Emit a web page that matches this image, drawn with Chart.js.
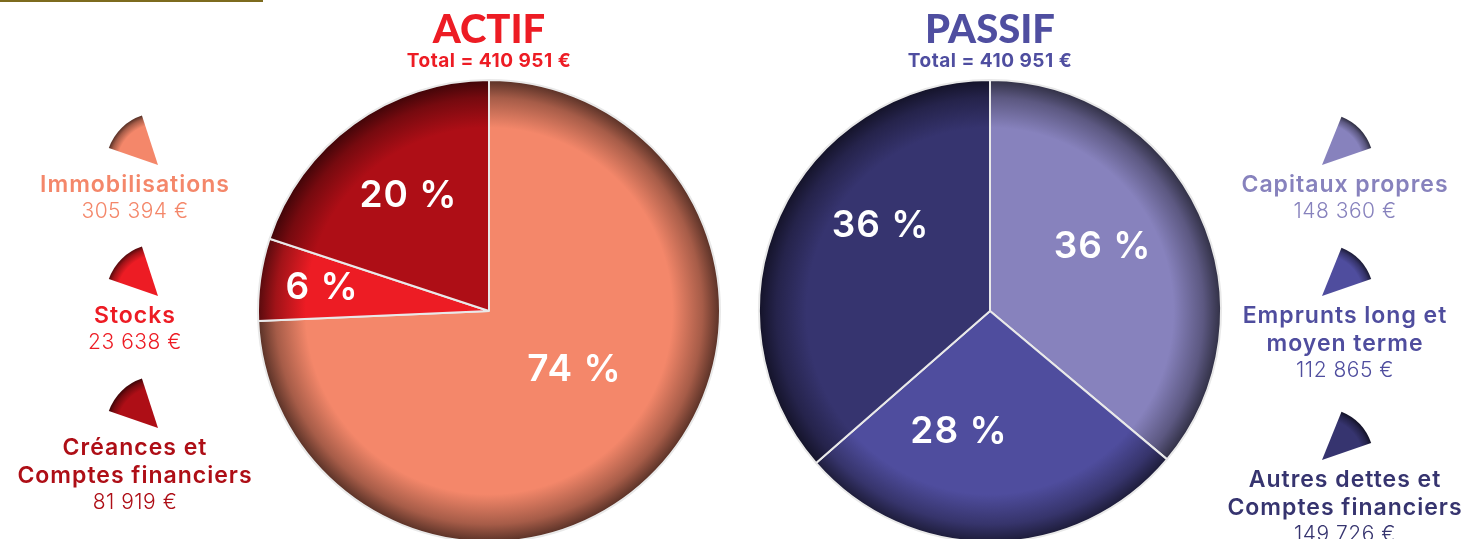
<!DOCTYPE html>
<html>
<head>
<meta charset="utf-8">
<script src="https://cdn.jsdelivr.net/npm/chart.js@4.4.1/dist/chart.umd.min.js"></script>
<style>
  html, body { margin: 0; padding: 0; background: #fff; overflow: hidden; }
  body { width: 1471px; height: 539px; position: relative; }
  .deco { position: absolute; left: 0; top: 0; width: 263px; height: 2px; background: #7d6b1e; }
  .box { position: absolute; top: 0; height: 545px; }
  #boxActif { left: 0; width: 735px; }
  #boxPassif { left: 735px; width: 736px; }
</style>
</head>
<body>
<div class="deco"></div>
<div class="box" id="boxActif"><canvas id="actif"></canvas></div>
<div class="box" id="boxPassif"><canvas id="passif"></canvas></div>
<script>
// data
const actifLabels = [["Immobilisations"], ["Stocks"], ["Créances et", "Comptes financiers"]];
const actifValues = [305394, 23638, 81919];
const actifPct = ["74 %", "6 %", "20 %"];
const actifColors = ["#f4876a", "#ed1c24", "#ae0e16"];

const passifLabels = [["Capitaux propres"], ["Emprunts long et", "moyen terme"], ["Autres dettes et", "Comptes financiers"]];
const passifValues = [148360, 112865, 149726];
const passifPct = ["36 %", "28 %", "36 %"];
const passifColors = ["#8782bd", "#4f4d9e", "#36346f"];

const FONT = "Inter, Lato, sans-serif";

function fmt(n) {
  return String(n).replace(/\B(?=(\d{3})+(?!\d))/g, " ") + " €";
}

function darken(hex, f) {
  const n = parseInt(hex.slice(1), 16);
  const r = Math.round(((n >> 16) & 255) * f);
  const g = Math.round(((n >> 8) & 255) * f);
  const b = Math.round((n & 255) * f);
  return "rgb(" + r + "," + g + "," + b + ")";
}

function shaded(ctx, cx, cy, r, color) {
  const g = ctx.createRadialGradient(cx, cy, 0, cx, cy, r);
  g.addColorStop(0, color);
  g.addColorStop(0.79, color);
  g.addColorStop(0.92, darken(color, 0.68));
  g.addColorStop(1, darken(color, 0.35));
  return g;
}

function sliceColor(colors) {
  return (c) => {
    const area = c.chart.chartArea;
    const col = colors[c.dataIndex];
    if (!area) return col;
    const cx = (area.left + area.right) / 2;
    const cy = (area.top + area.bottom) / 2;
    const r = Math.min(area.right - area.left, area.bottom - area.top) / 2;
    return shaded(c.chart.ctx, cx, cy, r, col);
  };
}

// extra drawing: title, percentages, side legend
const decorPlugin = {
  id: "decor",
  afterDraw(chart, args, o) {
    const ctx = chart.ctx;
    const area = chart.chartArea;
    const cx = (area.left + area.right) / 2;
    const meta = chart.getDatasetMeta(0);
    ctx.save();
    ctx.textAlign = "center";
    ctx.textBaseline = "middle";

    // title
    ctx.fillStyle = o.titleColor;
    ctx.letterSpacing = "0px";
    ctx.font = "900 40px Lato, sans-serif";
    ctx.fillText(o.title, cx, 30);
    ctx.font = "700 19px " + FONT;
    ctx.letterSpacing = "0.5px";
    const total = chart.data.datasets[0].data.reduce((a, b) => a + b, 0);
    ctx.fillText("Total = " + fmt(total), cx, 61);

    // percent labels
    ctx.fillStyle = "#fff";
    ctx.font = "600 37px " + FONT;
    ctx.letterSpacing = "1px";
    meta.data.forEach((arc, i) => {
      const mid = (arc.startAngle + arc.endAngle) / 2 + o.labelShift[i] * Math.PI / 180;
      const rr = arc.outerRadius * o.labelRadius[i];
      ctx.fillText(o.pct[i], arc.x + Math.cos(mid) * rr, arc.y + Math.sin(mid) * rr);
    });

    // side legend
    o.legendY.forEach((ay, i) => {
      const col = o.colors[i];
      const ax = o.iconX;
      const rad = 52;
      ctx.beginPath();
      ctx.moveTo(ax, ay);
      ctx.arc(ax, ay, rad, o.iconA0 * Math.PI / 180, o.iconA1 * Math.PI / 180);
      ctx.closePath();
      ctx.fillStyle = shaded(ctx, ax, ay, rad, col);
      ctx.fill();

      ctx.fillStyle = col;
      let y = ay + 20;
      ctx.font = "600 23px " + FONT;
      ctx.letterSpacing = "1px";
      o.labels[i].forEach((line) => {
        ctx.fillText(line, o.textX, y);
        y += 28;
      });
      ctx.font = "300 21px " + FONT;
      ctx.letterSpacing = "0.5px";
      ctx.fillText(fmt(chart.data.datasets[0].data[i]), o.textX, y - 1);
    });
    ctx.restore();
  }
};

function makePie(id, values, colors, pad, decor) {
  return new Chart(document.getElementById(id), {
    type: "pie",
    data: {
      labels: decor.labels.map((l) => l.join(" ")),
      datasets: [{
        data: values,
        backgroundColor: sliceColor(colors),
        borderColor: "#e9e9e9",
        borderWidth: 2
      }]
    },
    options: {
      responsive: true,
      maintainAspectRatio: false,
      animation: false,
      layout: { padding: pad },
      plugins: {
        legend: { display: false },
        tooltip: { enabled: false },
        decor: decor
      }
    },
    plugins: [decorPlugin]
  });
}

makePie("actif", actifValues, actifColors, { left: 257, right: 14, top: 79, bottom: 2 }, {
  title: "ACTIF",
  titleColor: "#ed1c24",
  pct: actifPct,
  labelRadius: [0.45, 0.73, 0.61],
  labelShift: [-9, 0, 1],
  labels: actifLabels,
  colors: actifColors,
  legendY: [165, 296, 428],
  iconX: 158,
  iconA0: 199,
  iconA1: 252,
  textX: 135
});

makePie("passif", passifValues, passifColors, { left: 23, right: 249, top: 79, bottom: 2 }, {
  title: "PASSIF",
  titleColor: "#4f4ea0",
  pct: passifPct,
  labelRadius: [0.56, 0.54, 0.6],
  labelShift: [-4.5, 15, 13.5],
  labels: passifLabels,
  colors: passifColors,
  legendY: [165, 296, 460],
  iconX: 587,
  iconA0: -68,
  iconA1: -19,
  textX: 610
});
</script>
</body>
</html>
